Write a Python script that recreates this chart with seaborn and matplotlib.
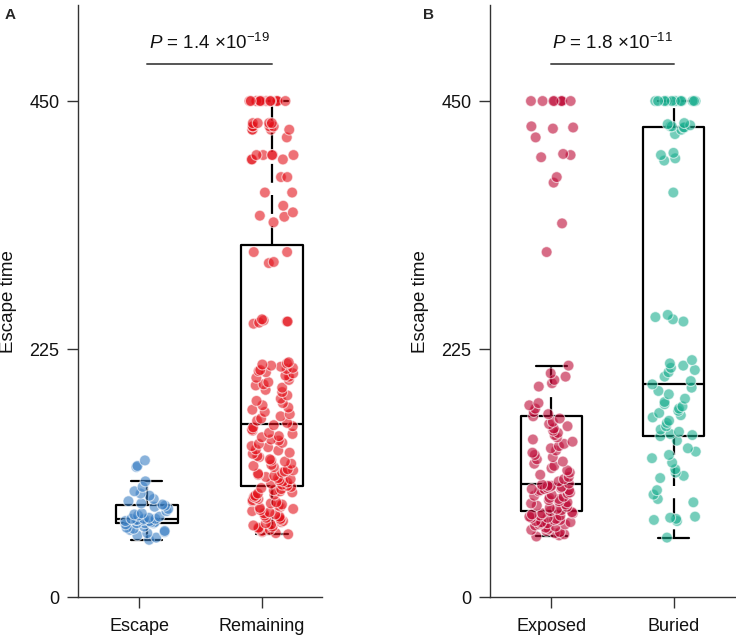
import matplotlib
matplotlib.use("Agg")
import matplotlib.pyplot as plt
import numpy as np
import pandas as pd
import seaborn as sns

# Panel A - escape times per group
escape_times = [52, 54, 56, 58, 59, 60, 61, 62, 63, 64, 66, 67, 67, 67, 68,
                68, 69, 69, 70, 70, 70, 71, 71, 71, 72, 73, 74, 75, 76, 78,
                80, 82, 83, 84, 85, 87, 89, 92, 94, 96, 100, 105, 118, 119, 124]
remaining_times = (
    list(range(57, 101))
    + [101, 102, 103, 104, 105, 106, 107, 108, 109, 110, 111, 112, 113, 114, 115, 116,
       118, 119, 120, 121, 123, 124, 125, 127, 128, 130, 131, 133, 134, 136, 137, 139,
       140, 142, 143, 145, 146, 148, 149, 151, 152, 154, 155, 156]
    + [158, 160, 162, 164, 166, 168, 170, 172, 174, 176, 178, 180, 183, 186, 188, 190, 192,
       193, 195, 197, 199, 200, 201, 203, 204, 205, 206, 207, 208, 209, 210, 211, 212, 213]
    + [248, 249, 250, 250, 251, 252]
    + [303, 304, 313, 313]
    + [340, 345, 346, 349, 355, 367, 367, 381, 381, 397, 397, 397, 401, 401, 401, 401, 401,
       417, 424, 424, 424, 424, 427, 427, 427, 427, 430, 430, 430, 430]
    + [450] * 14
)

# Panel B
exposed_times = [55, 56, 57, 58, 59, 60, 61, 62, 63, 64, 65, 66, 66, 67, 67, 68, 68, 69,
                 70, 70, 71, 72, 72, 73, 74, 74, 75, 76, 76, 77, 78,
                 79, 80, 81, 82, 83, 84, 85, 86, 87, 88, 89, 90, 91, 92, 93, 94, 95, 96,
                 97, 97, 98, 98, 99, 99, 100, 100, 101, 101, 102, 103,
                 105, 107, 109, 111, 113, 115, 117, 119, 121, 123, 125, 127, 129, 131,
                 133, 135, 137, 139, 141, 143, 145, 147, 149, 151, 153, 155, 157, 159,
                 162, 164,
                 166, 168, 171, 174, 176, 191, 194, 197, 200, 203, 210,
                 313, 339, 376, 381, 399, 401, 402, 417, 425, 426, 427,
                 450, 450, 450, 450, 450, 450, 450, 450]
buried_times = [54, 69, 70, 71, 72, 73, 86, 89, 93, 97, 108, 110, 113, 116, 122, 126,
                129, 132, 135, 142, 146,
                147, 148, 150, 152, 155, 158, 160, 163, 165, 167, 169, 171, 173, 175,
                177, 180, 184, 187, 190, 193,
                196, 200, 204, 206, 208, 210, 212, 215, 250, 252, 254, 256, 367, 396,
                398, 401, 403, 420, 424, 426,
                426, 427, 427, 428, 429, 430] + [450] * 14

panel_a_groups = ["Escape", "Remaining"]
panel_b_groups = ["Exposed", "Buried"]
panel_a_colors = ["#3b7fc4", "#e3121b"]
panel_b_colors = ["#bd0a36", "#1aae8f"]
p_label_a = r"$\it{P}$ = 1.4 ×10$^{-19}$"
p_label_b = r"$\it{P}$ = 1.8 ×10$^{-11}$"
y_ticks = [0, 225, 450]

sns.set_style("ticks")
plt.rcParams["font.family"] = ["Liberation Sans", "DejaVu Sans"]
plt.rcParams["mathtext.fontset"] = "custom"
plt.rcParams["mathtext.rm"] = "Liberation Sans"
plt.rcParams["mathtext.it"] = "Liberation Sans:italic"
plt.rcParams["mathtext.bf"] = "Liberation Sans:bold"

np.random.seed(3)


def draw_panel(ax, groups, values, colors, p_label, tick_pos, xlim):
    df = pd.DataFrame({
        "group": np.repeat(groups, [len(v) for v in values]),
        "time": np.concatenate(values),
    })
    sns.stripplot(data=df, x="group", y="time", hue="group", order=groups,
                  hue_order=groups, palette=colors, jitter=0.18, size=7.8,
                  alpha=0.6, edgecolor="white", linewidth=0.8, legend=False, ax=ax)
    sns.boxplot(data=df, x="group", y="time", order=groups, width=0.5, fill=False,
                color="black", linewidth=1.6, showfliers=False,
                whiskerprops=dict(linestyle=(0, (8.5, 5.5))), ax=ax)

    ax.set_xlim(*xlim)
    ax.set_ylim(0, 537)
    ax.set_yticks(y_ticks)
    ax.set_xticks(tick_pos, groups)
    ax.set_xlabel("")
    ax.set_ylabel("Escape time", fontsize=13.5, color="#111111")
    ax.yaxis.set_label_coords(-0.25, 0.5)

    sns.despine(ax=ax)
    for side in ["left", "bottom"]:
        ax.spines[side].set_color("#333333")
        ax.spines[side].set_linewidth(1.0)
    ax.tick_params(axis="both", length=8, width=1.0, color="#333333",
                   labelsize=13, labelcolor="#111111")
    ax.tick_params(axis="y", pad=5.5)
    ax.tick_params(axis="x", pad=7)

    ax.plot([0, 1], [484, 484], color="#555555", lw=1.4, clip_on=False)
    ax.text(0.5, 503, p_label, ha="center", va="center", fontsize=13.5, color="#111111")


fig = plt.figure(figsize=(7.36, 6.4), dpi=100)
ax_a = fig.add_axes([0.106, 0.067, 0.3315, 0.925])
ax_b = fig.add_axes([0.6658, 0.067, 0.3328, 0.925])

draw_panel(ax_a, panel_a_groups, [escape_times, remaining_times], panel_a_colors,
           p_label_a, [-0.06, 0.92], (-0.55, 1.4))
draw_panel(ax_b, panel_b_groups, [exposed_times, buried_times], panel_b_colors,
           p_label_b, [0, 1], (-0.5, 1.5))

fig.text(0.006, 0.988, "A", fontsize=11, fontweight="bold", va="top", ha="left")
fig.text(0.575, 0.988, "B", fontsize=11, fontweight="bold", va="top", ha="left")

fig.savefig("out.png", dpi=100)
